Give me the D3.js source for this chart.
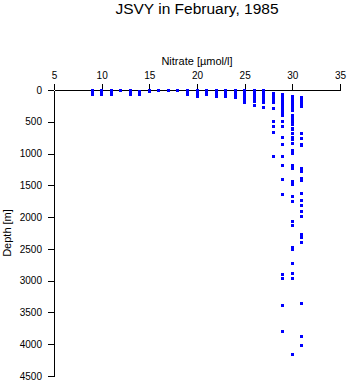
<!DOCTYPE html>
<html>
<head>
<meta charset="utf-8">
<script src="https://cdn.jsdelivr.net/npm/d3@7"></script>
<style>
  html, body { margin: 0; padding: 0; background: #fff; }
  svg { display: block; font-family: "Liberation Sans", Arial, Helvetica, sans-serif; }
</style>
</head>
<body>
<svg id="chart" width="348" height="384"></svg>
<script>
const titleText = "JSVY in February, 1985";
const xLabel = "Nitrate [\u00b5mol/l]";
const yLabel = "Depth [m]";
const xTicks = [5, 10, 15, 20, 25, 30, 35];
const yTicks = [0, 500, 1000, 1500, 2000, 2500, 3000, 3500, 4000, 4500];

const nitrateLevels = [9,10,11,12,13,14,15,16,17,18,19,20,21,22,23,24,25,26,27,28,29,30,31];
const depthsAtLevel = [
  [0,10,20,30,50,75],
  [0,10,20,30,50,75],
  [0,10,20,30,50,75],
  [0],
  [0,10,20,30,50,75],
  [30,50,75],
  [0,10,20,30],
  [0],
  [0],
  [0],
  [0,10,20,30,50,75],
  [0,10,20,30,50,75,110],
  [0,10,20,30,50,75],
  [0,10,20,30,50,75,100],
  [0,10,20,30,50,75,100],
  [0,10,20,30,50,75,100,125],
  [0,10,20,30,50,75,100,125,150,200],
  [0,10,20,30,50,75,100,125,150,175,250],
  [10,20,30,50,75,100,125,150,175,200,275],
  [50,75,100,125,150,175,200,290,490,580,665,1040],
  [75,100,125,150,175,200,225,250,275,300,325,350,375,400,500,580,755,850,1050,1195,1410,1640,2910,2960,3390,3800],
  [100,125,150,175,200,225,250,275,300,325,400,450,500,540,600,620,680,750,780,840,950,1000,1190,1240,1440,1480,1670,1760,2065,2130,2475,2505,2725,2885,2960,4155],
  [120,150,175,200,225,250,265,680,770,850,870,1240,1290,1400,1430,1630,1735,1825,1905,1985,2270,2320,2400,3365,3875,4015]
];

const points = [];
nitrateLevels.forEach((n, i) => depthsAtLevel[i].forEach(d => points.push({n, d})));

const svg = d3.select("#chart");
const x = d3.scaleLinear().domain([5, 35]).range([54, 340]);
const y = d3.scaleLinear().domain([0, 4500]).range([90, 376]);

svg.append("text")
  .attr("x", 197).attr("y", 14)
  .attr("text-anchor", "middle")
  .attr("font-size", 15.5)
  .text(titleText);

const xAxis = svg.append("g")
  .attr("transform", "translate(0,90)")
  .call(d3.axisTop(x).tickValues(xTicks).tickFormat(d3.format("d")).tickSize(6).tickSizeOuter(0).tickPadding(5));
const yAxis = svg.append("g")
  .attr("transform", "translate(54,0)")
  .call(d3.axisLeft(y).tickValues(yTicks).tickFormat(d3.format("d")).tickSize(6).tickSizeOuter(0).tickPadding(6));

[xAxis, yAxis].forEach(g => {
  g.attr("font-family", null).attr("font-size", 10);
  g.selectAll("path, line").attr("stroke", "#000").attr("shape-rendering", "crispEdges");
  g.selectAll("text").attr("fill", "#000");
});

svg.append("text")
  .attr("x", 197).attr("y", 65)
  .attr("text-anchor", "middle")
  .attr("font-size", 11)
  .text(xLabel);

svg.append("text")
  .attr("transform", "translate(11,233) rotate(-90)")
  .attr("text-anchor", "middle")
  .attr("font-size", 11)
  .text(yLabel);

svg.append("g")
  .selectAll("rect")
  .data(points)
  .join("rect")
  .attr("x", p => x(p.n) - 1.5)
  .attr("y", p => y(p.d) - 1.5)
  .attr("width", 3)
  .attr("height", 3)
  .attr("fill", "#0000ff")
  .attr("shape-rendering", "crispEdges");
</script>
</body>
</html>
